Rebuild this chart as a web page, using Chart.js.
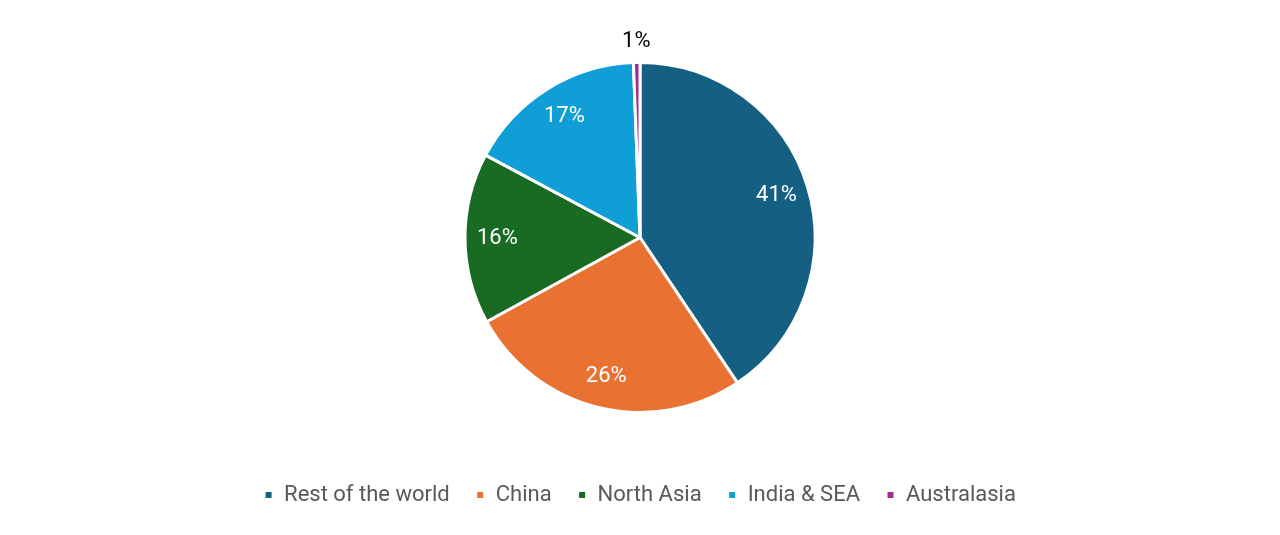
<!DOCTYPE html>
<html>
<head>
<meta charset="utf-8">
<script src="https://cdn.jsdelivr.net/npm/chart.js@4"></script>
<style>
  html, body { margin: 0; padding: 0; background: #fff; }
  #wrap { width: 1280px; height: 535px; }
</style>
</head>
<body>
<div id="wrap"><canvas id="myChart"></canvas></div>
<script>
const regions = ['Rest of the world', 'China', 'North Asia', 'India & SEA', 'Australasia'];
const shares = [40.6, 26.4, 15.8, 16.6, 0.6];
const colours = ['#156082', '#E97132', '#196B24', '#0F9ED5', '#A02B93'];

const FONT = 'Roboto, sans-serif';

// percent labels, white inside the slice, black outside for tiny ones
const sliceLabels = {
    id: 'sliceLabels',
    afterDatasetsDraw(chart) {
        const c = chart.ctx;
        const meta = chart.getDatasetMeta(0);
        const total = shares.reduce((a, b) => a + b, 0);
        c.save();
        c.font = '22px ' + FONT;
        c.textAlign = 'center';
        c.textBaseline = 'middle';
        meta.data.forEach((arc, i) => {
            const pct = shares[i] / total * 100;
            const mid = (arc.startAngle + arc.endAngle) / 2;
            let r = arc.outerRadius * 0.815;
            c.fillStyle = '#fff';
            if (pct < 3) {
                r = arc.outerRadius + 21;
                c.fillStyle = '#000';
            }
            const x = arc.x + Math.cos(mid) * r;
            const y = arc.y + Math.sin(mid) * r;
            c.fillText(Math.round(pct) + '%', x, y);
        });
        c.restore();
    }
};

const ctx = document.getElementById('myChart');

const myChart = new Chart(ctx, {
    type: 'pie',
    data: {
        labels: regions,
        datasets: [{
            data: shares,
            backgroundColor: colours,
            borderColor: '#fff',
            borderWidth: 3,
            radius: 175
        }]
    },
    options: {
        responsive: true,
        maintainAspectRatio: false,
        animation: false,
        layout: { padding: { top: 17, bottom: 19 } },
        plugins: {
            tooltip: { enabled: false },
            legend: {
                position: 'bottom',
                labels: {
                    boxWidth: 9,
                    boxHeight: 9,
                    padding: 26,
                    color: '#595959',
                    font: { family: FONT, size: 22 }
                }
            }
        }
    },
    plugins: [sliceLabels]
});
</script>
</body>
</html>
